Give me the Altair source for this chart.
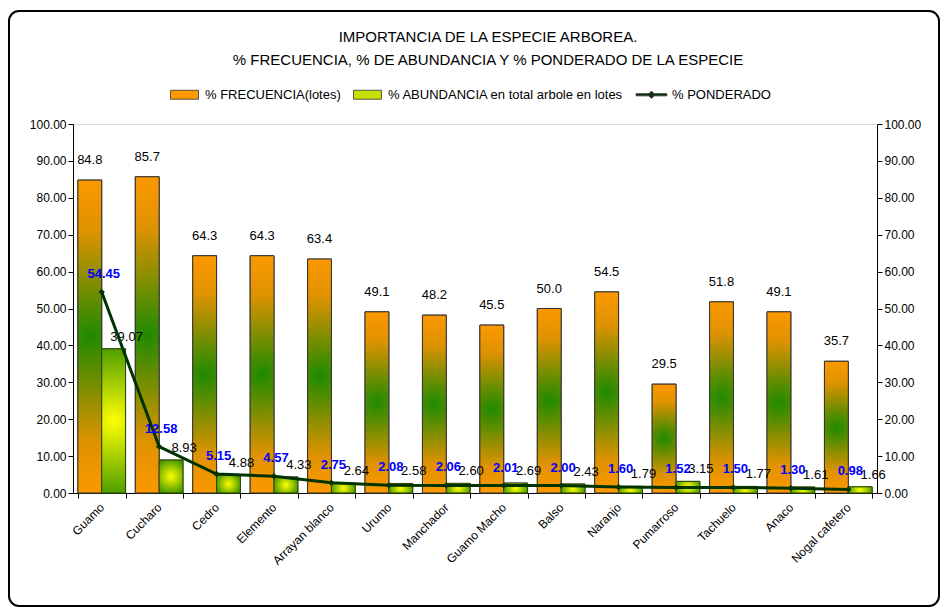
import altair as alt
import pandas as pd

categories = ["Guamo", "Cucharo", "Cedro", "Elemento", "Arrayan blanco", "Urumo",
              "Manchador", "Guamo Macho", "Balso", "Naranjo", "Pumarroso",
              "Tachuelo", "Anaco", "Nogal cafetero"]
frecuencia = [84.8, 85.7, 64.3, 64.3, 63.4, 49.1, 48.2, 45.5, 50.0, 54.5, 29.5, 51.8, 49.1, 35.7]
abundancia = [39.07, 8.93, 4.88, 4.33, 2.64, 2.58, 2.60, 2.69, 2.43, 1.79, 3.15, 1.77, 1.61, 1.66]
ponderado = [54.45, 12.58, 5.15, 4.57, 2.75, 2.08, 2.06, 2.01, 2.00, 1.60, 1.52, 1.50, 1.30, 0.98]
series_names = ["% FRECUENCIA(lotes)", "% ABUNDANCIA en total arbole en lotes", "% PONDERADO"]

rows = []
for c, f, a, p in zip(categories, frecuencia, abundancia, ponderado):
    rows.append({"cat": c, "serie": series_names[0], "value": f})
    rows.append({"cat": c, "serie": series_names[1], "value": a})
    rows.append({"cat": c, "serie": series_names[2], "value": p})
long_df = pd.DataFrame(rows)
bars_df = long_df[long_df["serie"] != series_names[2]]
line_df = long_df[long_df["serie"] == series_names[2]]
freq_df = long_df[long_df["serie"] == series_names[0]]
ab_df = long_df[long_df["serie"] == series_names[1]]

FONT = "Liberation Sans"
x_scale = alt.Scale(domain=categories, paddingInner=0.17, paddingOuter=0.085)
y_scale = alt.Scale(domain=[0, 100], nice=False)

x_enc = alt.X("cat:N", sort=categories, scale=x_scale, title=None,
              axis=alt.Axis(labelAngle=-45, labelAlign="right", labelBaseline="middle",
                            tickBand="extent", labelFont=FONT, labelFontSize=12,
                            labelColor="black", domainColor="black", tickColor="black",
                            labelPadding=7, tickSize=5))
y_left = alt.Y("value:Q", scale=y_scale, title=None,
               axis=alt.Axis(orient="left", format=".2f", values=list(range(0, 101, 10)),
                             labelFont=FONT, labelFontSize=12, labelColor="black",
                             domainColor="black", tickColor="black", grid=False, tickSize=5))
y_right = alt.Y("value:Q", scale=y_scale, title=None,
                axis=alt.Axis(orient="right", format=".2f", values=list(range(0, 101, 10)),
                              labelFont=FONT, labelFontSize=12, labelColor="black",
                              domainColor="black", tickColor="black", grid=False, tickSize=5))
y_plain = alt.Y("value:Q", scale=y_scale, title=None, axis=None)

orange_grad = {"gradient": "radial", "x1": 0.5, "y1": 0.5, "r1": 0, "x2": 0.5, "y2": 0.5, "r2": 0.52,
               "stops": [{"offset": 0, "color": "#1f8a00"}, {"offset": 0.65, "color": "#df9200"},
                         {"offset": 1, "color": "#ff9900"}]}
green_grad = {"gradient": "radial", "x1": 0.5, "y1": 0.5, "r1": 0, "x2": 0.5, "y2": 0.5, "r2": 0.6,
              "stops": [{"offset": 0, "color": "#ffff00"}, {"offset": 1, "color": "#2e8b00"}]}

color_scale = alt.Scale(domain=series_names, range=["#ff9900", "#c8e000", "#003300"])
shape_scale = alt.Scale(domain=series_names, range=[
    "M-1,-0.32H1V0.32H-1Z",
    "M-1,-0.32H1V0.32H-1Z",
    "M-1.1,-0.08H1.1V0.08H-1.1Z M0,-0.26L0.26,0L0,0.26L-0.26,0Z"])

frame = alt.Chart(alt.Data(values=[{"a": 1}])).mark_rect(
    fill=None, stroke="black", strokeWidth=2, cornerRadius=10, clip=False
).encode(x=alt.value(-64), x2=alt.value(866), y=alt.value(-113), y2=alt.value(482))

legend_layer = alt.Chart(long_df).mark_point(opacity=0, filled=True).encode(
    x=x_enc, y=y_plain,
    color=alt.Color("serie:N", scale=color_scale, title=None,
                    legend=alt.Legend(orient="none", legendX=97, legendY=-44, direction="horizontal",
                                      symbolOpacity=1, symbolSize=784, symbolStrokeColor="#333333",
                                      symbolStrokeWidth=0.8, labelFont=FONT, labelFontSize=13,
                                      labelColor="black", columnPadding=10, labelOffset=6,
                                      labelLimit=400, titleOpacity=0)),
    shape=alt.Shape("serie:N", scale=shape_scale, legend=None),
)

bars = alt.Chart(bars_df).mark_bar(stroke="#333333", strokeWidth=1).encode(
    x=x_enc, y=y_left,
    xOffset=alt.XOffset("serie:N", sort=series_names[:2], scale=alt.Scale(domain=series_names[:2])),
    fill=alt.Fill("serie:N", scale=alt.Scale(domain=series_names[:2], range=["#ff9900", "#c8e000"]),
                  legend=None),
)
bars_f = alt.Chart(bars_df[bars_df["serie"] == series_names[0]]).mark_bar(
    fill=orange_grad, stroke="#333333", strokeWidth=1).encode(
    x=x_enc, y=y_plain,
    xOffset=alt.XOffset("serie:N", scale=alt.Scale(domain=series_names[:2])),
)
bars_a = alt.Chart(bars_df[bars_df["serie"] == series_names[1]]).mark_bar(
    fill=green_grad, stroke="#2b4a00", strokeWidth=1).encode(
    x=x_enc, y=y_plain,
    xOffset=alt.XOffset("serie:N", scale=alt.Scale(domain=series_names[:2])),
)

freq_text = alt.Chart(freq_df).mark_text(font=FONT, fontSize=13, color="black", dy=-13, baseline="bottom").encode(
    x=x_enc, y=y_plain,
    xOffset=alt.XOffset("serie:N", scale=alt.Scale(domain=series_names[:2])),
    text=alt.Text("value:Q", format=".1f"),
)
ab_text = alt.Chart(ab_df).mark_text(font=FONT, fontSize=13, color="black", dy=-5, dx=13, baseline="bottom").encode(
    x=x_enc, y=y_plain,
    xOffset=alt.XOffset("serie:N", scale=alt.Scale(domain=series_names[:2])),
    text=alt.Text("value:Q", format=".2f"),
)

line = alt.Chart(line_df).mark_line(color="#003300", strokeWidth=3).encode(x=x_enc, y=y_plain)
pts = alt.Chart(line_df).mark_point(shape="diamond", filled=True, color="#003300", size=40, opacity=1).encode(
    x=x_enc, y=y_plain)
pond_text = alt.Chart(line_df).mark_text(font=FONT, fontSize=13, fontWeight="bold", color="#0000ff",
                                         dy=-11, dx=2, baseline="bottom").encode(
    x=x_enc, y=y_plain, text=alt.Text("value:Q", format=".2f"))

right_axis = alt.Chart(line_df).mark_point(opacity=0).encode(x=x_enc, y=y_right)

chart = alt.layer(
    frame, legend_layer, bars, bars_f, bars_a, freq_text, ab_text, line, pts, pond_text, right_axis
).resolve_scale(
    y="shared"
).properties(
    width=804, height=369,
    title=alt.Title(["IMPORTANCIA DE LA ESPECIE ARBOREA.",
                     "% FRECUENCIA, % DE ABUNDANCIA Y % PONDERADO DE LA ESPECIE"],
                    font=FONT, fontSize=15, fontWeight="normal", color="black",
                    lineHeight=23, offset=-58, dx=13, anchor="middle"),
    autosize=alt.AutoSizeParams(type="none"),
    padding={"left": 65, "top": 116, "right": 63, "bottom": 115},
).configure_view(stroke=None).configure(background="white")

chart.save("out.html", embed_options={"renderer": "svg", "actions": False})
